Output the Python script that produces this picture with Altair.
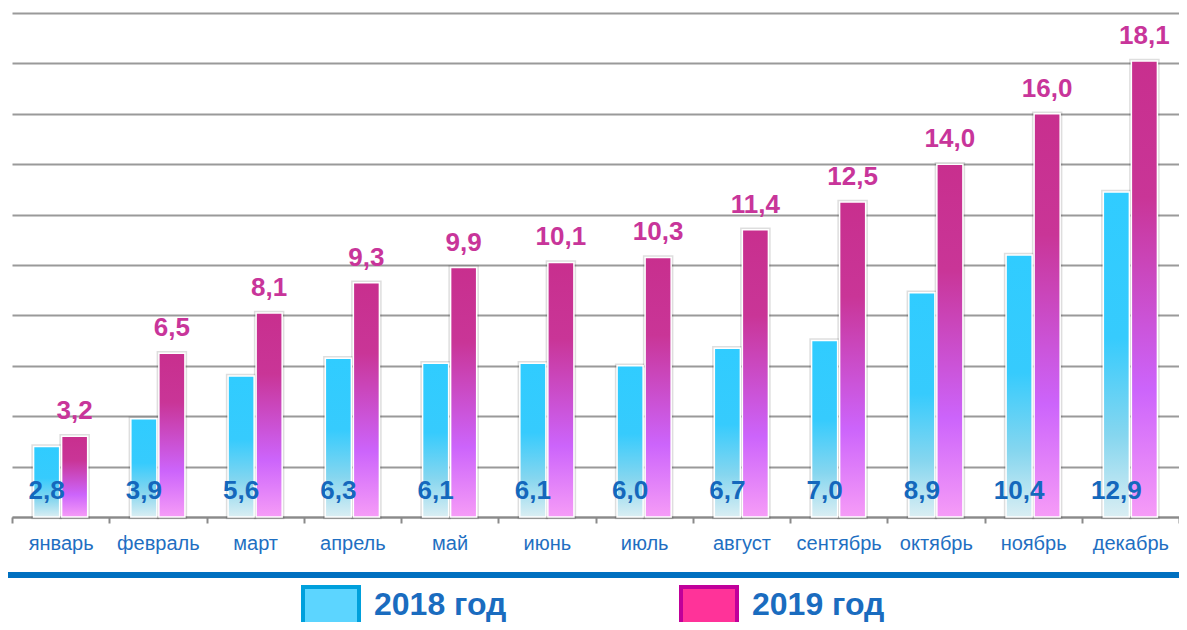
import altair as alt
import pandas as pd

months = ["январь", "февраль", "март", "апрель", "май", "июнь",
          "июль", "август", "сентябрь", "октябрь", "ноябрь", "декабрь"]
v2018 = [2.8, 3.9, 5.6, 6.3, 6.1, 6.1, 6.0, 6.7, 7.0, 8.9, 10.4, 12.9]
v2019 = [3.2, 6.5, 8.1, 9.3, 9.9, 10.1, 10.3, 11.4, 12.5, 14.0, 16.0, 18.1]
series = ["2018 год", "2019 год"]

rows = []
for m, a, b in zip(months, v2018, v2019):
    rows.append({"month": m, "year": series[0], "value": a, "zero": 0,
                 "label": f"{a:.1f}".replace(".", ",")})
    rows.append({"month": m, "year": series[1], "value": b, "zero": 0,
                 "label": f"{b:.1f}".replace(".", ",")})
df = pd.DataFrame(rows)

FONT = "Liberation Sans"
W, H = 1167, 504

grad2018 = alt.Gradient(
    gradient="linear", x1=0, y1=0, x2=0, y2=1,
    stops=[alt.GradientStop(color="#30ccff", offset=0),
           alt.GradientStop(color="#36cbfd", offset=0.45),
           alt.GradientStop(color="#86d6ef", offset=0.75),
           alt.GradientStop(color="#daeef3", offset=1)])
grad2019 = alt.Gradient(
    gradient="linear", x1=0, y1=0, x2=0, y2=1,
    stops=[alt.GradientStop(color="#c82f8e", offset=0),
           alt.GradientStop(color="#c93597", offset=0.3),
           alt.GradientStop(color="#cc64fb", offset=0.72),
           alt.GradientStop(color="#f69cf7", offset=1)])

x_enc = alt.X("month:N", sort=months, title=None,
              scale=alt.Scale(paddingInner=0, paddingOuter=0),
              axis=alt.Axis(labelAngle=0, labelFontSize=20, labelFont=FONT,
                            labelColor="#1f6fc2", tickBand="extent",
                            grid=False,
                            tickColor="#8a8a8a", tickWidth=2, tickSize=6,
                            domainColor="#8a8a8a", domainWidth=2,
                            labelPadding=10))
xo_enc = alt.XOffset("year:N", sort=series,
                     scale=alt.Scale(domain=series, paddingInner=0.07,
                                     paddingOuter=0.77))
y_enc = alt.Y("value:Q", title=None,
              scale=alt.Scale(domain=[0, 20], nice=False),
              axis=alt.Axis(values=list(range(0, 21, 2)), labels=False,
                            ticks=False, domain=False, grid=True,
                            gridColor="#9a9a9a", gridWidth=2))

base = alt.Chart(df)

shadow = base.mark_bar(
    fillOpacity=0, stroke="#000000", strokeOpacity=0.13, strokeWidth=4.5
).encode(x=x_enc, xOffset=xo_enc, y=y_enc)

bars18 = base.transform_filter(alt.datum.year == series[0]).mark_bar(
    color=grad2018, stroke="white", strokeWidth=1.5
).encode(x=x_enc, xOffset=xo_enc, y=y_enc)

bars19 = base.transform_filter(alt.datum.year == series[1]).mark_bar(
    color=grad2019, stroke="white", strokeWidth=1.5
).encode(x=x_enc, xOffset=xo_enc, y=y_enc)

lab18 = base.transform_filter(alt.datum.year == series[0]).mark_text(
    font=FONT, fontSize=26, fontWeight="bold", color="#1468bc",
    baseline="middle", dy=-26
).encode(x=x_enc, xOffset=xo_enc, y=alt.Y("zero:Q"), text="label:N")

lab19 = base.transform_filter(alt.datum.year == series[1]).mark_text(
    font=FONT, fontSize=26, fontWeight="bold", color="#c8359a",
    baseline="alphabetic", dy=-17
).encode(x=x_enc, xOffset=xo_enc, y=alt.Y("value:Q"), text="label:N")

legend_opts = dict(title=None, orient="none", legendX=289, legendY=572,
                   direction="horizontal", symbolType="square",
                   symbolSize=3136, symbolOpacity=1, symbolStrokeWidth=4,
                   labelFontSize=32, labelFont=FONT, labelFontWeight="bold",
                   labelColor="#1a6cbf", labelOffset=13,
                   labelBaseline="alphabetic", columnPadding=166)

legend_layer = base.mark_square(opacity=0).encode(
    x=x_enc, xOffset=xo_enc, y=alt.Y("zero:Q"),
    fill=alt.Fill("year:N", sort=series,
                  scale=alt.Scale(domain=series, range=["#5cd5ff", "#ff3399"]),
                  legend=alt.Legend(**legend_opts)),
    stroke=alt.Stroke("year:N", sort=series,
                      scale=alt.Scale(domain=series,
                                      range=["#00a0dc", "#c0009a"]),
                      legend=alt.Legend(**legend_opts)),
)

blue_rule = base.mark_rule(color="#0070c0", strokeWidth=5).encode(
    x=alt.value(-12), x2=alt.value(W), y=alt.value(562)
)

chart = alt.layer(legend_layer, shadow, bars18, bars19, lab18, lab19,
                  blue_rule).properties(
    width=W, height=H,
    autosize=alt.AutoSizeParams(type="none"),
    padding={"left": 4, "top": 5, "right": 0, "bottom": 105},
).configure(font=FONT).configure_view(stroke=None)

chart.save("out.html", embed_options={"renderer": "svg", "actions": False})
